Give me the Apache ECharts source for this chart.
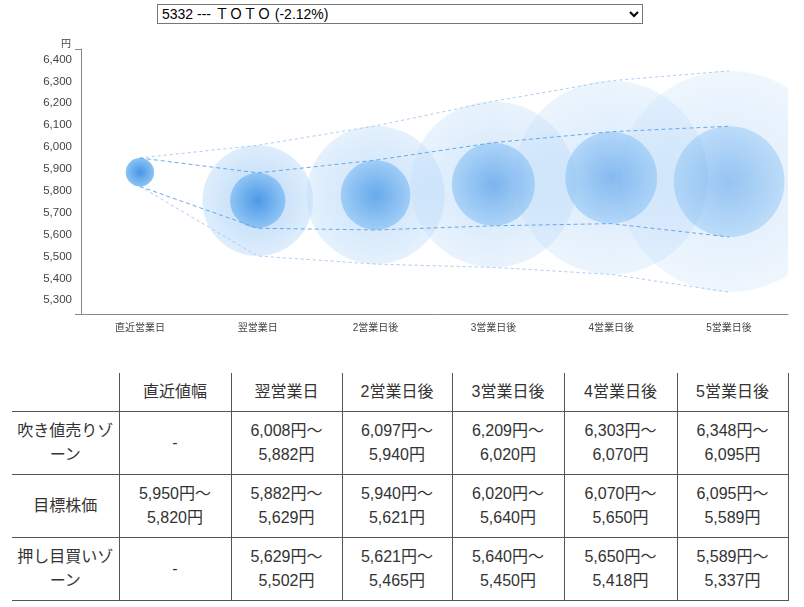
<!DOCTYPE html>
<html>
<head>
<meta charset="utf-8">
<script src="https://cdn.jsdelivr.net/npm/echarts@6/dist/echarts.min.js"></script>
<style>
  body { margin: 0; background: #fff; font-family: 'Liberation Sans', 'Noto Sans CJK JP', sans-serif; color: #333; }
  #stock { position: absolute; left: 157px; top: 4px; width: 486px; height: 20px; font-size: 14px;
           font-family: 'Liberation Sans', 'Noto Sans CJK JP', sans-serif; border: 1px solid #767676; border-radius: 0; background: #fff; color: #000; }
  #chart { position: absolute; left: 0; top: 0; width: 804px; height: 345px; }
  #zone { position: absolute; left: 12px; top: 373px; width: 776px; border-collapse: collapse; table-layout: fixed; font-size: 16px; }
  #zone th, #zone td { font-weight: normal; text-align: center; line-height: 24px; padding: 7px 4px;
                       border-bottom: 1px solid #555; border-left: 1px solid #555; color: #333; }
  #zone th:first-child, #zone td:first-child { border-left: none; }
  #zone th:last-child, #zone td:last-child { border-right: 1px solid #555; }
</style>
</head>
<body>
<select id="stock"><option>5332 --- ＴＯＴＯ (-2.12%)</option></select>
<div id="chart"></div>
<table id="zone"></table>
<script>
// 軸ラベル
let categories = ['直近営業日', '翌営業日', '2営業日後', '3営業日後', '4営業日後', '5営業日後']
let tableHeads = ['直近値幅', '翌営業日', '2営業日後', '3営業日後', '4営業日後', '5営業日後']
let rowNames = ['吹き値売りゾーン', '目標株価', '押し目買いゾーン']
let yTicks = [5300, 5400, 5500, 5600, 5700, 5800, 5900, 6000, 6100, 6200, 6300, 6400]
let yMin = 5237
let yMax = 6448
// 目標株価 (上限 / 下限)
let targetHigh = [5950, 5882, 5940, 6020, 6070, 6095]
let targetLow = [5820, 5629, 5621, 5640, 5650, 5589]
// 吹き値売りゾーン上限 / 押し目買いゾーン下限
let sellHigh = [null, 6008, 6097, 6209, 6303, 6348]
let buyLow = [null, 5502, 5465, 5450, 5418, 5337]

function yen(v) {
    return String(v).replace(/\B(?=(\d{3})+(?!\d))/g, ',')
}

// 表
let html = '<colgroup>' + [107, 112, 111, 110, 112, 113, 111].map(w => '<col style="width:' + w + 'px">').join('') + '</colgroup>'
html += '<tr><th></th>' + tableHeads.map(h => '<th>' + h + '</th>').join('') + '</tr>'
let rows = [
    categories.map((c, i) => sellHigh[i] == null ? '-' : yen(sellHigh[i]) + '円～<br>' + yen(targetHigh[i]) + '円'),
    categories.map((c, i) => yen(targetHigh[i]) + '円～<br>' + yen(targetLow[i]) + '円'),
    categories.map((c, i) => buyLow[i] == null ? '-' : yen(targetLow[i]) + '円～<br>' + yen(buyLow[i]) + '円')
]
rows.forEach((r, k) => {
    html += '<tr><td>' + rowNames[k] + '</td>' + r.map(t => '<td>' + t + '</td>').join('') + '</tr>'
})
document.getElementById('zone').innerHTML = html

// 円 (上限〜下限の幅がそのまま直径になる、大きいほど薄く)
function bubble(center, edge, k) {
    return function(params, api) {
        let p1 = api.coord([api.value(0), api.value(1)])
        let p2 = api.coord([api.value(0), api.value(2)])
        let r = Math.abs(p2[1] - p1[1]) / 2
        let a = Math.min(1, k / r)
        return {
            type: 'circle',
            shape: { cx: p1[0], cy: (p1[1] + p2[1]) / 2, r: r },
            style: {
                fill: {
                    type: 'radial', x: 0.5, y: 0.5, r: 0.5,
                    colorStops: [
                        { offset: 0, color: 'rgba(' + center + ',' + a + ')' },
                        { offset: 1, color: 'rgba(' + edge + ',' + a + ')' }
                    ]
                }
            }
        }
    }
}

let outerData = []
let innerData = []
categories.forEach((c, i) => {
    if (sellHigh[i] != null) outerData.push([i, sellHigh[i], buyLow[i]])
    innerData.push([i, targetHigh[i], targetLow[i]])
})
let upperLine = categories.map((c, i) => sellHigh[i] == null ? targetHigh[i] : sellHigh[i])
let lowerLine = categories.map((c, i) => buyLow[i] == null ? targetLow[i] : buyLow[i])

let myChart = echarts.init(document.getElementById('chart'))
let axisColor = '#888'
myChart.setOption({
    animation: false,
    textStyle: { fontFamily: "'Liberation Sans', 'Noto Sans CJK JP', sans-serif" },
    grid: { left: 81, right: 16, top: 49, height: 265 },
    xAxis: {
        type: 'category',
        data: categories,
        boundaryGap: true,
        axisLine: { lineStyle: { color: axisColor } },
        axisTick: { interval: function(i) { return i === 0 }, length: 6, lineStyle: { color: axisColor } },
        axisLabel: { interval: 0, color: '#444', fontSize: 10, margin: 9 }
    },
    yAxis: {
        type: 'value',
        min: yMin,
        max: yMax,
        name: '円',
        nameLocation: 'end',
        nameGap: 0,
        nameTextStyle: { color: '#444', fontSize: 10, align: 'right', verticalAlign: 'bottom', padding: [0, 10, 0, 0] },
        axisLine: { show: true, lineStyle: { color: axisColor } },
        axisTick: { show: true, customValues: [yMin, yMax], length: 6, lineStyle: { color: axisColor } },
        axisLabel: { customValues: yTicks, color: '#444', fontSize: 11.5, margin: 9, formatter: yen },
        splitLine: { show: false }
    },
    series: [{
        type: 'custom',
        name: 'outer',
        clip: true,
        renderItem: bubble('120,180,240', '190,220,250', 28),
        encode: { x: 0, y: [1, 2] },
        data: outerData,
        z: 1
    }, {
        type: 'custom',
        name: 'inner',
        clip: true,
        renderItem: bubble('70,150,230', '140,195,245', 26),
        encode: { x: 0, y: [1, 2] },
        data: innerData,
        z: 2
    }, {
        type: 'line', data: upperLine, symbol: 'none', z: 3,
        lineStyle: { color: 'rgba(160,200,242,0.9)', width: 1, type: [3, 3] }
    }, {
        type: 'line', data: lowerLine, symbol: 'none', z: 3,
        lineStyle: { color: 'rgba(160,200,242,0.9)', width: 1, type: [3, 3] }
    }, {
        type: 'line', data: targetHigh, symbol: 'none', z: 3,
        lineStyle: { color: 'rgba(90,160,230,0.9)', width: 1, type: [4, 3] }
    }, {
        type: 'line', data: targetLow, symbol: 'none', z: 3,
        lineStyle: { color: 'rgba(90,160,230,0.9)', width: 1, type: [4, 3] }
    }]
})
</script>
</body>
</html>
